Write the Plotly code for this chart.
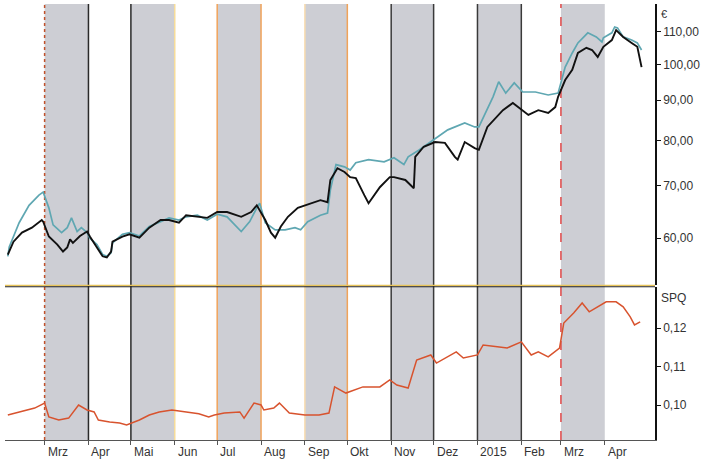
import plotly.graph_objects as go

# ---------------- data ----------------
black_dates = ["2014-02-03","2014-02-07","2014-02-13","2014-02-20","2014-02-27","2014-02-28",
    "2014-03-04","2014-03-10","2014-03-14","2014-03-17","2014-03-19","2014-03-21","2014-03-26","2014-03-31",
    "2014-04-02","2014-04-07","2014-04-11","2014-04-14","2014-04-17","2014-04-18","2014-04-25","2014-04-30",
    "2014-05-07","2014-05-14","2014-05-22","2014-05-28","2014-06-04","2014-06-09","2014-06-17","2014-06-24",
    "2014-07-01","2014-07-08","2014-07-18","2014-07-25","2014-07-29","2014-08-04","2014-08-08","2014-08-11",
    "2014-08-15","2014-08-20","2014-08-27","2014-09-05","2014-09-12","2014-09-17","2014-09-19","2014-09-24",
    "2014-09-29","2014-10-03","2014-10-07","2014-10-13","2014-10-16","2014-10-24","2014-10-31","2014-11-03",
    "2014-11-11","2014-11-17","2014-11-18","2014-11-24","2014-12-02","2014-12-09","2014-12-16","2014-12-18",
    "2014-12-23","2014-12-30","2015-01-02","2015-01-08","2015-01-19","2015-01-26","2015-02-02","2015-02-06",
    "2015-02-13","2015-02-20","2015-02-25","2015-02-27","2015-03-04","2015-03-09","2015-03-13","2015-03-19",
    "2015-03-23","2015-03-27","2015-03-31","2015-04-06","2015-04-09","2015-04-14","2015-04-20","2015-04-24",
    "2015-04-27"]
black_vals = [57.2,59.4,61.0,61.9,63.3,63.0,
    60.3,58.9,57.7,58.4,59.8,59.2,60.4,61.2,
    60.3,58.5,56.9,56.7,57.7,59.4,60.3,60.7,
    60.1,61.9,63.3,63.3,62.8,64.2,63.9,63.7,
    64.8,64.8,63.9,64.8,66.1,63.3,61.0,60.1,
    62.1,63.9,65.6,66.5,67.1,66.7,71.2,73.7,
    72.9,71.8,71.6,68.1,66.5,69.7,71.8,71.8,
    71.2,69.5,76.2,78.5,79.6,79.4,76.2,75.6,
    79.6,78.2,77.8,83.2,87.4,89.3,87.4,86.2,
    87.4,86.7,88.2,90.9,95.5,98.4,103.4,105.0,
    104.3,102.2,105.3,107.4,110.6,108.4,106.5,105.3,
    99.2]

teal_dates = ["2014-02-03","2014-02-04","2014-02-11","2014-02-18","2014-02-25","2014-02-28",
    "2014-03-04","2014-03-07","2014-03-13","2014-03-17","2014-03-20","2014-03-24","2014-03-27","2014-03-31",
    "2014-04-02","2014-04-07","2014-04-11","2014-04-14","2014-04-17","2014-04-18","2014-04-25","2014-04-30",
    "2014-05-07","2014-05-14","2014-05-22","2014-05-28","2014-06-04","2014-06-09","2014-06-17","2014-06-24",
    "2014-07-01","2014-07-08","2014-07-18","2014-07-24","2014-07-29","2014-07-31","2014-08-04","2014-08-11",
    "2014-08-18","2014-08-25","2014-08-29","2014-09-03","2014-09-12","2014-09-17","2014-09-19","2014-09-23",
    "2014-09-29","2014-10-03","2014-10-07","2014-10-16","2014-10-27","2014-11-03","2014-11-10","2014-11-13",
    "2014-11-21","2014-12-01","2014-12-11","2014-12-23","2014-12-30","2015-01-02","2015-01-12","2015-01-16",
    "2015-01-21","2015-01-27","2015-02-02","2015-02-11","2015-02-20","2015-02-27","2015-03-04","2015-03-09",
    "2015-03-13","2015-03-20","2015-03-26","2015-03-30","2015-03-31","2015-04-06","2015-04-08","2015-04-10",
    "2015-04-14","2015-04-20","2015-04-24","2015-04-27"]
teal_vals = [56.9,58.5,62.8,66.1,68.1,68.7,
    65.6,62.4,61.0,61.9,63.7,61.2,61.9,61.0,
    60.0,58.9,57.2,56.9,57.5,59.2,60.7,61.0,
    60.4,62.1,63.0,63.7,63.3,63.9,64.2,63.3,
    64.4,63.9,61.2,63.0,65.6,66.5,62.8,61.5,
    61.5,61.9,61.5,63.0,64.2,64.6,69.1,74.5,
    74.0,73.3,74.9,75.6,75.1,76.0,74.5,76.2,
    77.8,80.1,82.5,84.2,83.2,83.2,90.9,95.0,
    91.9,94.7,92.2,92.2,91.4,91.9,99.2,103.4,
    106.5,109.7,108.4,106.8,108.1,109.7,111.6,111.3,
    108.4,107.4,106.5,104.3]

spq_dates = ["2014-02-03","2014-02-12","2014-02-22","2014-03-01","2014-03-04","2014-03-11","2014-03-18",
    "2014-03-25","2014-03-31","2014-04-05","2014-04-08","2014-04-16","2014-04-23","2014-04-28","2014-05-07",
    "2014-05-14","2014-05-21","2014-05-30","2014-06-08","2014-06-18","2014-06-25","2014-06-29","2014-07-06",
    "2014-07-17","2014-07-20","2014-07-27","2014-08-01","2014-08-03","2014-08-10","2014-08-14","2014-08-21",
    "2014-09-01","2014-09-11","2014-09-18","2014-09-22","2014-09-30","2014-10-12","2014-10-24","2014-10-31",
    "2014-11-05","2014-11-13","2014-11-19","2014-11-29","2014-12-03","2014-12-17","2014-12-22","2015-01-01",
    "2015-01-05","2015-01-15","2015-01-22","2015-02-01","2015-02-08","2015-02-13","2015-02-20","2015-02-28",
    "2015-03-03","2015-03-10","2015-03-16","2015-03-21","2015-03-26","2015-04-02","2015-04-09","2015-04-14",
    "2015-04-19","2015-04-22","2015-04-26"]
spq_vals = [0.0974,0.0982,0.0992,0.1005,0.0969,0.0961,0.0966,
    0.1000,0.0987,0.0982,0.0961,0.0956,0.0953,0.0948,0.0961,
    0.0974,0.0982,0.0987,0.0982,0.0977,0.0969,0.0974,0.0979,
    0.0982,0.0966,0.1005,0.1000,0.0987,0.0992,0.1005,0.0979,
    0.0974,0.0974,0.0979,0.1047,0.1031,0.1047,0.1047,0.1065,
    0.1052,0.1044,0.1117,0.1130,0.1109,0.1138,0.1122,0.1130,
    0.1156,0.1151,0.1148,0.1164,0.1130,0.1138,0.1125,0.1148,
    0.1213,0.1239,0.1265,0.1242,0.1252,0.1268,0.1268,0.1255,
    0.1229,0.1208,0.1216]

month_starts = ["2014-03-01","2014-04-01","2014-05-01","2014-06-01","2014-07-01","2014-08-01","2014-09-01",
    "2014-10-01","2014-11-01","2014-12-01","2015-01-01","2015-02-01","2015-03-01","2015-04-01"]
month_labels = ["Mrz","Apr","Mai","Jun","Jul","Aug","Sep","Okt","Nov","Dez","2015","Feb","Mrz","Apr"]
band_starts = ["2014-03-01","2014-05-01","2014-07-01","2014-09-01","2014-11-01","2015-01-01","2015-03-01"]
band_ends = ["2014-04-01","2014-06-01","2014-08-01","2014-10-01","2014-12-01","2015-02-01","2015-04-01"]

price_ticks = [60, 70, 80, 90, 100, 110]
price_ticktext = ["60,00","70,00","80,00","90,00","100,00","110,00"]
spq_ticks = [0.10, 0.11, 0.12]
spq_ticktext = ["0,10","0,11","0,12"]

# ---------------- styles ----------------
sep_line_styles = [("#c0502a","dot"),("#2a2a2a","solid"),("#2a2a2a","solid"),("#f6dc9a","solid"),
    ("#f0a35a","solid"),("#f0a35a","solid"),("#f8dcb0","solid"),("#f0a35a","solid"),
    ("#3a3a3a","solid"),("#3a3a3a","solid"),("#3a3a3a","solid"),("#3a3a3a","solid"),
    ("#e04848","dash"), None]

FONT = "Liberation Sans, Arial, sans-serif"
TXT = "#333333"

fig = go.Figure()
fig.add_trace(go.Scatter(x=teal_dates, y=teal_vals, mode="lines",
                         line=dict(color="#5fa7b2", width=1.7), xaxis="x", yaxis="y", showlegend=False))
fig.add_trace(go.Scatter(x=black_dates, y=black_vals, mode="lines",
                         line=dict(color="#111111", width=1.9), xaxis="x", yaxis="y", showlegend=False))
fig.add_trace(go.Scatter(x=spq_dates, y=spq_vals, mode="lines",
                         line=dict(color="#d8532e", width=1.5), xaxis="x2", yaxis="y2", showlegend=False))

shapes = []
for s, e in zip(band_starts, band_ends):
    shapes.append(dict(type="rect", xref="x", yref="paper", x0=s, x1=e, y0=0, y1=1,
                       fillcolor="#cdced4", line=dict(width=0), layer="below"))
for d, st in zip(month_starts, sep_line_styles):
    if st is None:
        continue
    shapes.append(dict(type="line", xref="x", yref="paper", x0=d, x1=d, y0=0, y1=1,
                       line=dict(color=st[0], width=1.5, dash=st[1]), layer="below"))
# separator between panels
shapes.append(dict(type="line", xref="paper", yref="paper", x0=0, x1=1, y0=0.3545, y1=0.3545,
                   line=dict(color="#e8c45a", width=1.2), layer="above"))
shapes.append(dict(type="line", xref="paper", yref="paper", x0=0, x1=1, y0=0.3515, y1=0.3515,
                   line=dict(color="#222222", width=1.2), layer="above"))

annotations = []
for d, lab in zip(month_starts, month_labels):
    annotations.append(dict(x=d, y=0, xref="x2", yref="paper", text=lab, showarrow=False,
                            xanchor="left", yanchor="top", yshift=-3, xshift=1,
                            font=dict(family=FONT, size=12, color=TXT)))
annotations.append(dict(x=1, y=1, xref="paper", yref="paper", text="€", showarrow=False,
                        xanchor="left", yanchor="top", xshift=4, yshift=-2,
                        font=dict(family=FONT, size=11, color=TXT)))
annotations.append(dict(x=1, y=0.3509, xref="paper", yref="paper", text="SPQ", showarrow=False,
                        xanchor="left", yanchor="top", xshift=4, yshift=-2,
                        font=dict(family=FONT, size=12, color=TXT)))

xr = ["2014-02-01", "2015-05-06 12:00"]
fig.update_layout(
    width=717, height=466,
    margin=dict(l=5, r=62, t=4, b=26),
    paper_bgcolor="white", plot_bgcolor="white",
    font=dict(family=FONT, size=12, color=TXT),
    shapes=shapes, annotations=annotations,
    xaxis=dict(type="date", range=xr, domain=[0, 1], anchor="y", showticklabels=False,
               showgrid=False, zeroline=False, showline=False, ticks=""),
    xaxis2=dict(type="date", range=xr, domain=[0, 1], anchor="y2", matches="x",
                showticklabels=False, showgrid=False, zeroline=False,
                showline=True, linecolor="#555555", linewidth=1,
                ticks="outside", tickvals=month_starts, ticklen=4, tickcolor="#555555"),
    yaxis=dict(type="log", domain=[0.3555, 1], range=[1.7185, 2.077], side="right", anchor="x",
               showgrid=False, zeroline=False, showline=True, linecolor="#111111", linewidth=1.5,
               ticks="outside", ticklen=4, tickcolor="#111111",
               tickvals=price_ticks, ticktext=price_ticktext,
               tickfont=dict(family=FONT, size=12, color=TXT)),
    yaxis2=dict(domain=[0, 0.3509], range=[0.09091, 0.13065], side="right", anchor="x2",
                showgrid=False, zeroline=False, showline=True, linecolor="#111111", linewidth=1.5,
                ticks="outside", ticklen=4, tickcolor="#111111",
                tickvals=spq_ticks, ticktext=spq_ticktext,
                tickfont=dict(family=FONT, size=12, color=TXT)),
)

fig.write_html("out.html")
